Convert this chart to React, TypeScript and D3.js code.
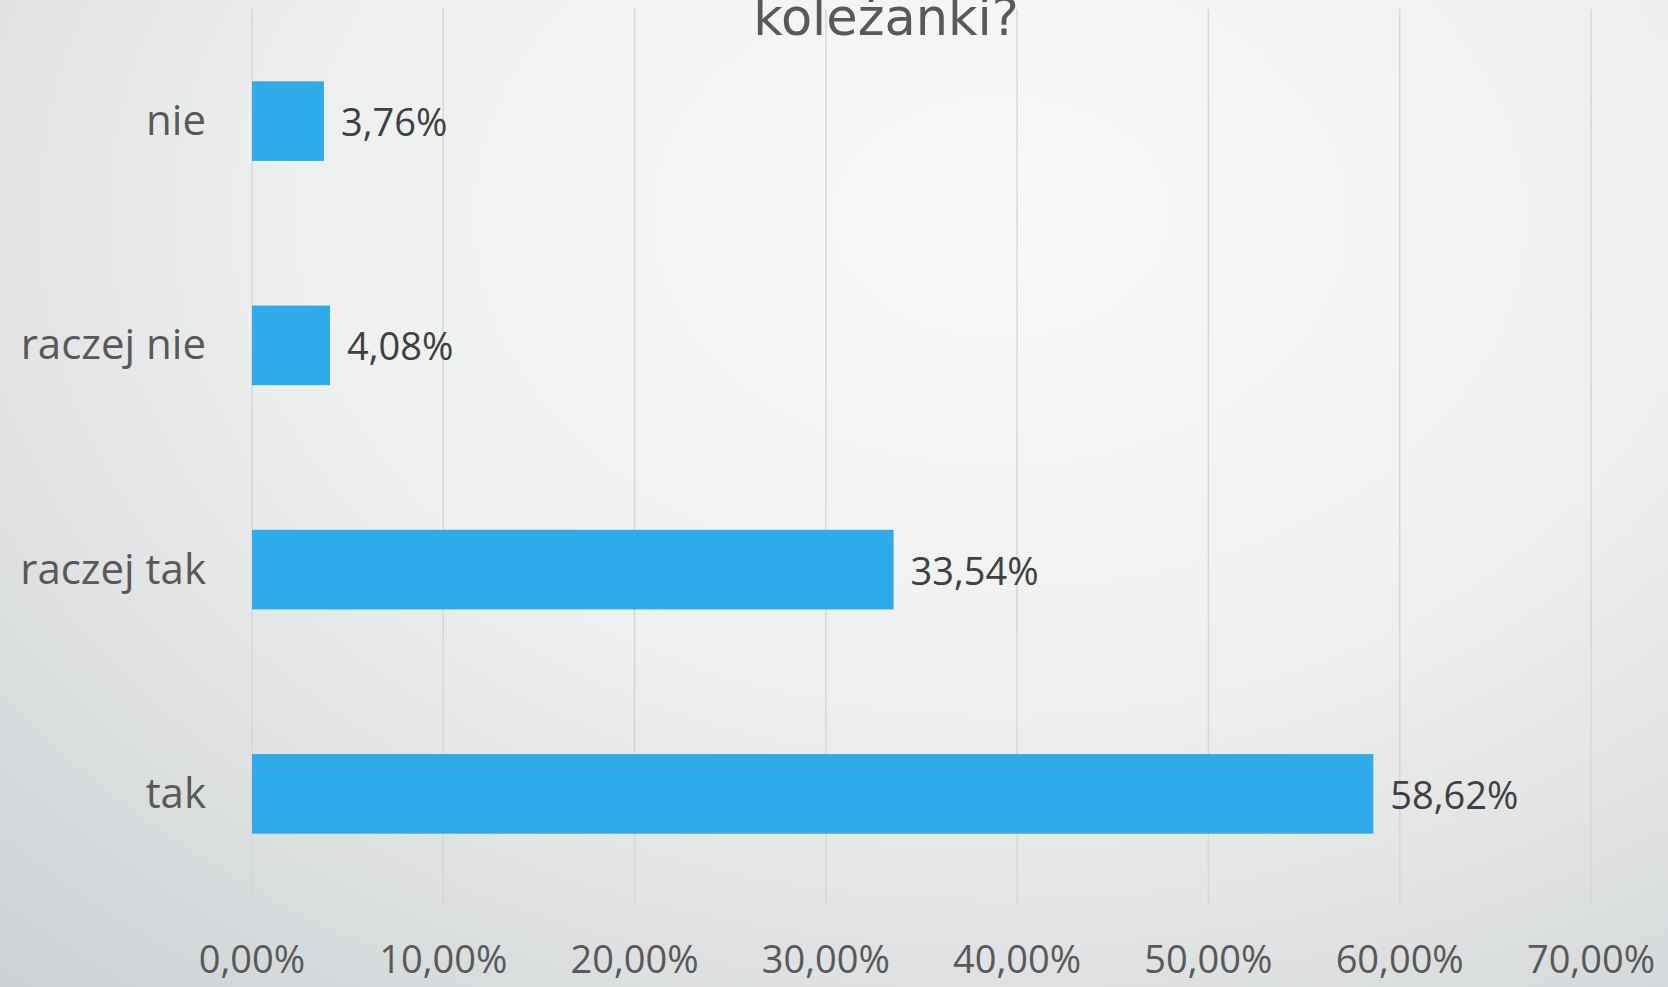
import React, { useEffect, useRef } from 'react';
import * as d3 from 'd3';

// answers, top to bottom as they appear on the slide
const categories = ['nie', 'raczej nie', 'raczej tak', 'tak'];
const shares = [0.0376, 0.0408, 0.3354, 0.5862];
const xTicks = [0, 0.1, 0.2, 0.3, 0.4, 0.5, 0.6, 0.7];
const titleText = 'koleżanki?';

const W = 1668;
const H = 987;

const pl = d3.formatLocale({ decimal: ',', thousands: ' ', grouping: [3], currency: ['', ' zł'] });
const pct = pl.format('.2%');

export default function App() {
  const ref = useRef<SVGSVGElement>(null);

  useEffect(() => {
    const svg = d3.select(ref.current);
    svg.selectAll('*').remove();

    const defs = svg.append('defs');
    const grad = defs.append('radialGradient')
      .attr('id', 'bg')
      .attr('cx', '0.6').attr('cy', '0.22')
      .attr('r', '0.95')
      .attr('gradientTransform', 'translate(0.6,0.22) scale(1,1.2) translate(-0.6,-0.22)');
    grad.append('stop').attr('offset', '0').attr('stop-color', '#f9f9f9');
    grad.append('stop').attr('offset', '0.45').attr('stop-color', '#eeefef');
    grad.append('stop').attr('offset', '1').attr('stop-color', '#c9cdd0');

    svg.append('rect').attr('width', W).attr('height', H).attr('fill', 'url(#bg)');

    const x = d3.scaleLinear().domain([0, 0.7]).range([252, 1591]);
    const y = d3.scaleBand<string>()
      .domain(categories)
      .range([9, 906])
      .paddingInner(0.645)
      .paddingOuter(0.3225);

    // vertical gridlines
    svg.append('g')
      .selectAll('line')
      .data(xTicks)
      .enter()
      .append('line')
      .attr('x1', d => x(d)).attr('x2', d => x(d))
      .attr('y1', 9).attr('y2', 905)
      .attr('stroke', '#d6d7d8')
      .attr('stroke-width', 1.5);

    // tick labels
    svg.append('g')
      .selectAll('text')
      .data(xTicks)
      .enter()
      .append('text')
      .attr('x', d => x(d))
      .attr('y', 973)
      .attr('text-anchor', 'middle')
      .attr('font-family', '"Open Sans", sans-serif')
      .attr('font-size', 38)
      .attr('fill', '#595959')
      .text(d => pct(d));

    const rows = categories.map((c, i) => ({ c, v: shares[i] }));

    svg.append('g')
      .selectAll('rect')
      .data(rows)
      .enter()
      .append('rect')
      .attr('x', x(0))
      .attr('y', d => y(d.c)!)
      .attr('width', d => x(d.v) - x(0))
      .attr('height', y.bandwidth())
      .attr('fill', '#2fabea');

    // category names
    svg.append('g')
      .selectAll('text')
      .data(rows)
      .enter()
      .append('text')
      .attr('x', 206)
      .attr('y', d => y(d.c)! + y.bandwidth() / 2 + 14)
      .attr('text-anchor', 'end')
      .attr('font-family', '"Open Sans", sans-serif')
      .attr('font-size', 42)
      .attr('fill', '#595959')
      .text(d => d.c);

    // value labels
    svg.append('g')
      .selectAll('text')
      .data(rows)
      .enter()
      .append('text')
      .attr('x', d => x(d.v) + 17)
      .attr('y', d => y(d.c)! + y.bandwidth() / 2 + 15)
      .attr('font-family', '"Open Sans", sans-serif')
      .attr('font-size', 38)
      .attr('fill', '#404040')
      .text(d => pct(d.v));

    svg.append('text')
      .attr('x', 886)
      .attr('y', 35)
      .attr('text-anchor', 'middle')
      .attr('font-family', '"DejaVu Sans", sans-serif')
      .attr('font-size', 51)
      .attr('fill', '#595959')
      .text(titleText);
  }, []);

  return (
    <>
      <style>{'body{margin:0}'}</style>
      <svg ref={ref} width={W} height={H} style={{ display: 'block' }} />
    </>
  );
}
